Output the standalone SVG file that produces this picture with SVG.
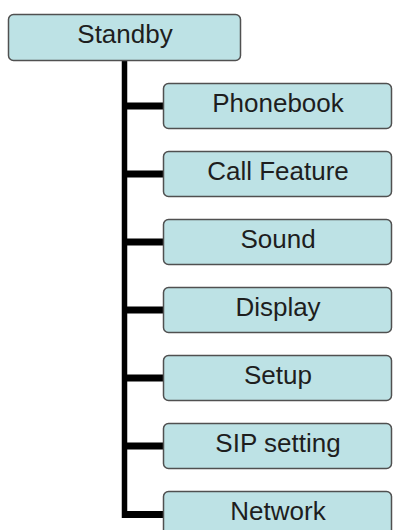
<svg xmlns="http://www.w3.org/2000/svg" width="393" height="530" viewBox="0 0 393 530">
<style>
.box{fill:#bde2e5;stroke:#505050;stroke-width:1.5}
.t{font-family:"Liberation Sans",Arial,sans-serif;font-size:26px;fill:#1e1e1e;text-anchor:middle}
.ln{stroke:#000;fill:none}
</style>
<rect width="393" height="530" fill="#fff"/>
<g id="connectors">
<line class="ln" x1="124.5" y1="61" x2="124.5" y2="518" stroke-width="5.5"/>
<path class="ln" stroke-width="7" d="M122 106H164M122 174H164M122 242H164M122 310H164M122 378H164M122 446H164M122 514.5H164"/>
</g>
<g id="standby"><rect class="box" x="8.5" y="14.5" width="232" height="46" rx="5"/><text class="t" x="125" y="43">Standby</text></g>
<g id="phonebook"><rect class="box" x="163.5" y="83.5" width="228" height="45" rx="5"/><text class="t" x="278" y="112">Phonebook</text></g>
<g id="callfeature"><rect class="box" x="163.5" y="151.5" width="228" height="45" rx="5"/><text class="t" x="278" y="180">Call Feature</text></g>
<g id="sound"><rect class="box" x="163.5" y="219.5" width="228" height="45" rx="5"/><text class="t" x="278" y="248">Sound</text></g>
<g id="display"><rect class="box" x="163.5" y="287.5" width="228" height="45" rx="5"/><text class="t" x="278" y="316">Display</text></g>
<g id="setup"><rect class="box" x="163.5" y="355.5" width="228" height="45" rx="5"/><text class="t" x="278" y="384">Setup</text></g>
<g id="sipsetting"><rect class="box" x="163.5" y="423.5" width="228" height="45" rx="5"/><text class="t" x="278" y="452">SIP setting</text></g>
<g id="network"><rect class="box" x="163.5" y="491.5" width="228" height="45" rx="5"/><text class="t" x="278" y="520">Network</text></g>
</svg>
